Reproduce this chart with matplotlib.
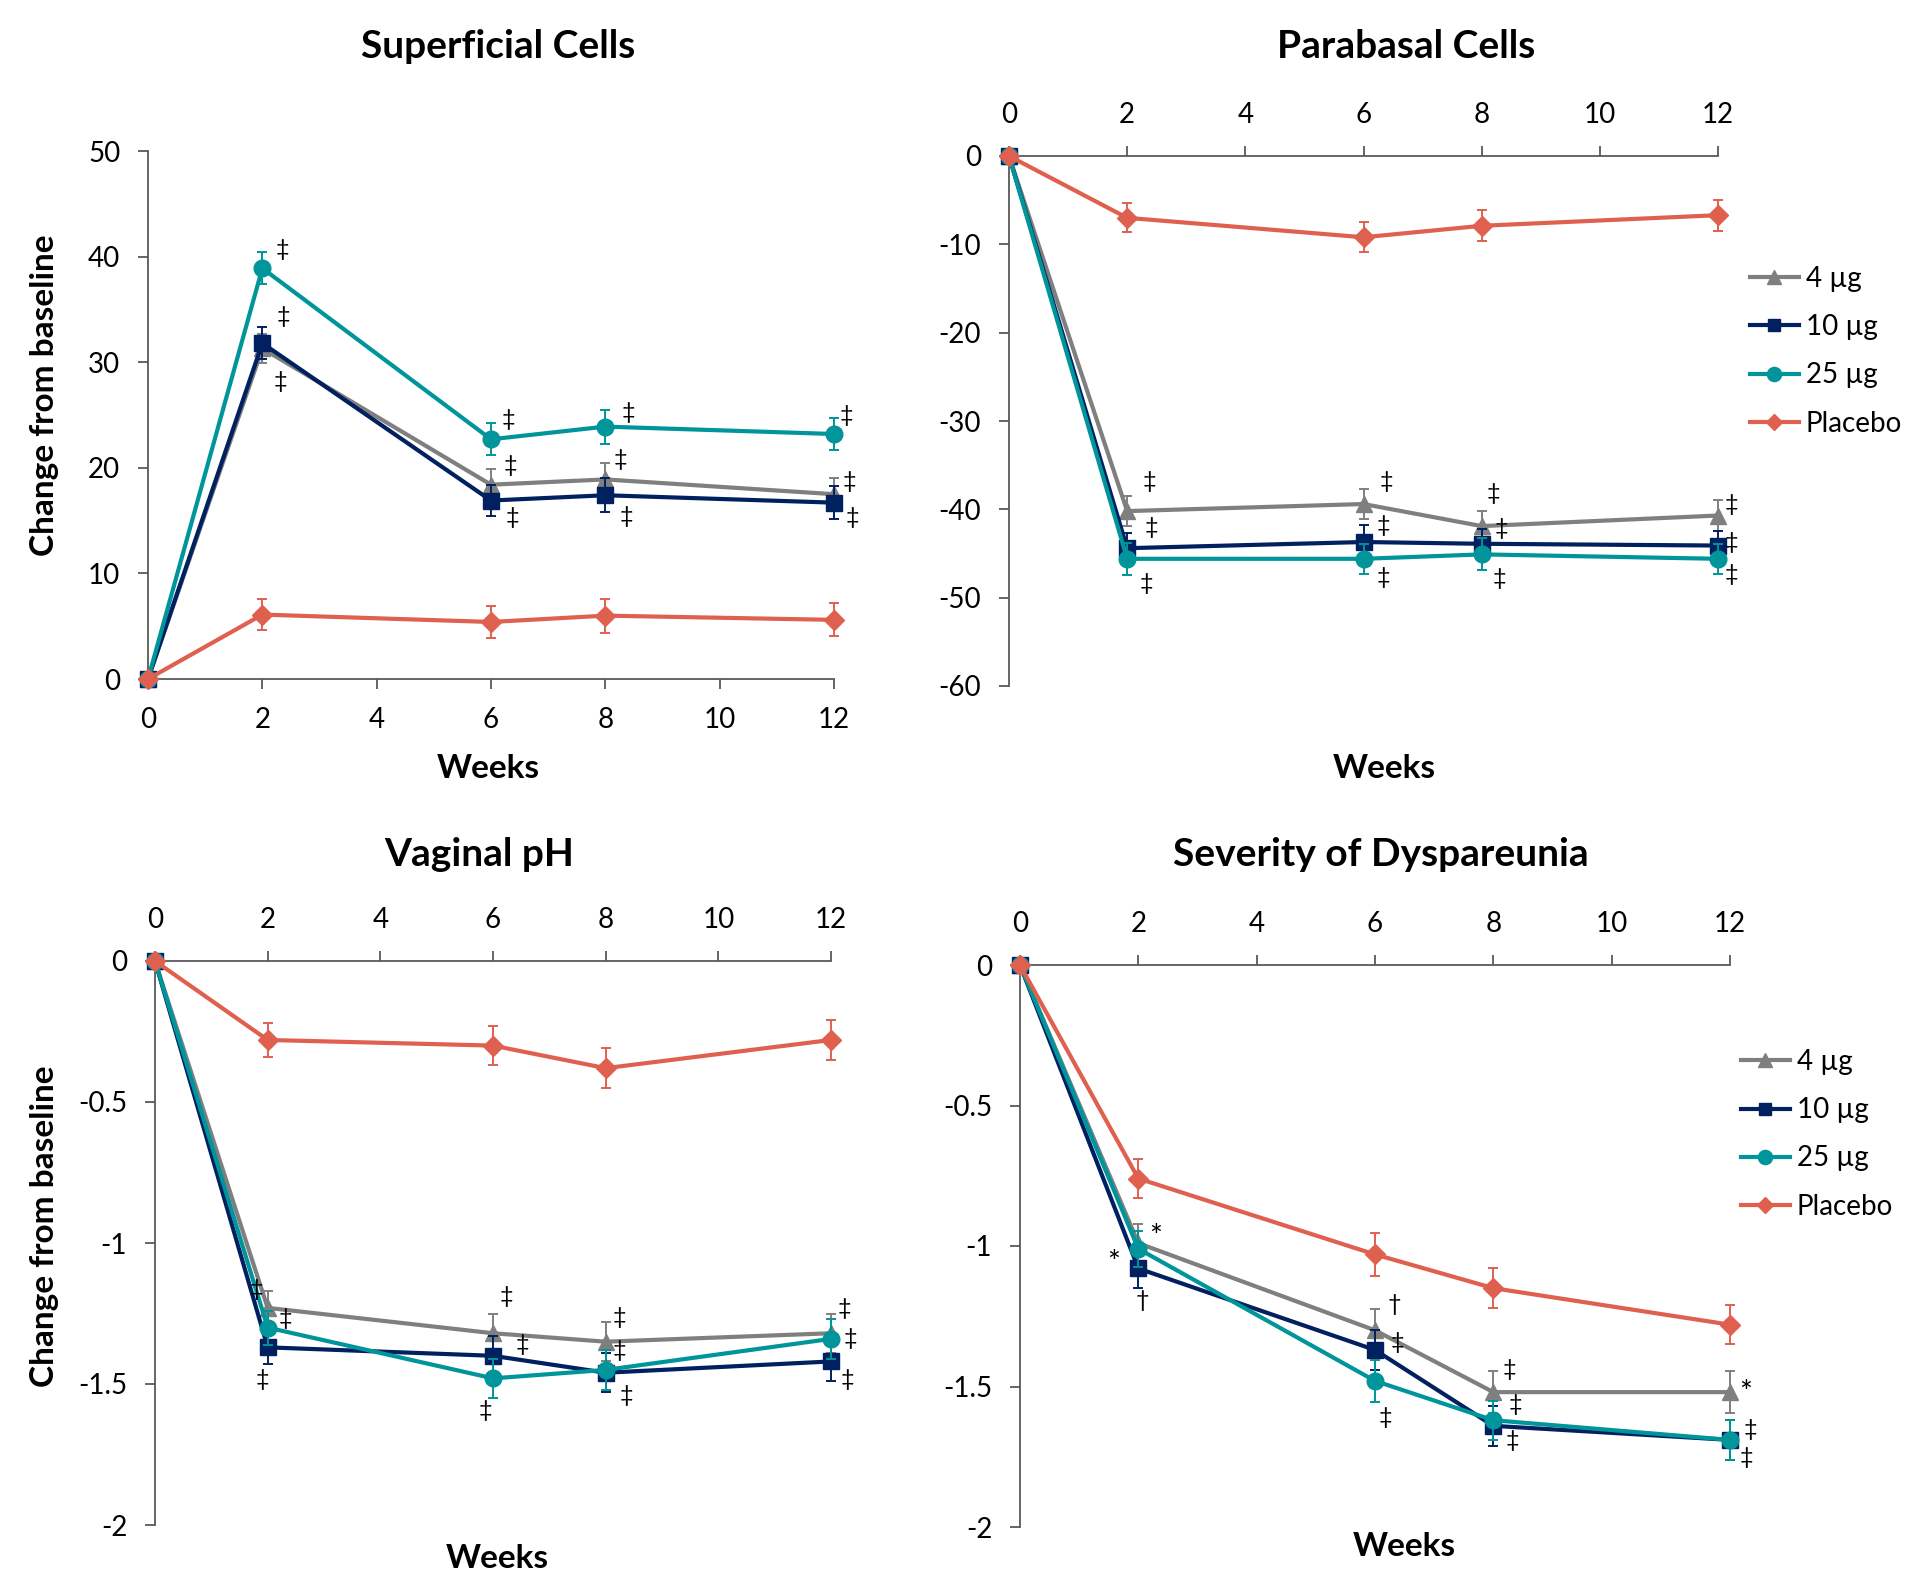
import matplotlib
matplotlib.use("Agg")
import matplotlib.pyplot as plt
from matplotlib.lines import Line2D

plt.rcParams['font.family'] = ['Lato', 'DejaVu Sans']

# данные
weeks = [0, 2, 6, 8, 12]
labels = ['4 µg', '10 µg', '25 µg', 'Placebo']

sup_4 = [0, 31.3, 18.4, 18.9, 17.5]
sup_10 = [0, 31.8, 16.9, 17.4, 16.7]
sup_25 = [0, 38.9, 22.7, 23.9, 23.2]
sup_pl = [0, 6.1, 5.4, 6.0, 5.6]
sup_4_err = [0, 1.4, 1.5, 1.6, 1.55]
sup_10_err = [0, 1.5, 1.5, 1.6, 1.55]
sup_25_err = [0, 1.5, 1.5, 1.6, 1.5]
sup_pl_err = [0, 1.5, 1.5, 1.6, 1.55]

para_4 = [0, -40.2, -39.4, -41.9, -40.7]
para_10 = [0, -44.4, -43.7, -43.9, -44.1]
para_25 = [0, -45.6, -45.6, -45.1, -45.6]
para_pl = [0, -7.0, -9.2, -7.9, -6.7]
para_4_err = [0, 1.7, 1.75, 1.7, 1.8]
para_10_err = [0, 1.7, 1.9, 1.7, 1.7]
para_25_err = [0, 1.8, 1.7, 1.8, 1.7]
para_pl_err = [0, 1.65, 1.7, 1.75, 1.75]

ph_4 = [0, -1.23, -1.32, -1.35, -1.32]
ph_10 = [0, -1.37, -1.40, -1.46, -1.42]
ph_25 = [0, -1.30, -1.48, -1.45, -1.34]
ph_pl = [0, -0.28, -0.30, -0.38, -0.28]
ph_4_err = [0, 0.06, 0.07, 0.07, 0.07]
ph_10_err = [0, 0.06, 0.07, 0.07, 0.07]
ph_25_err = [0, 0.06, 0.07, 0.07, 0.07]
ph_pl_err = [0, 0.06, 0.07, 0.07, 0.07]

dys_4 = [0, -0.99, -1.30, -1.52, -1.52]
dys_10 = [0, -1.08, -1.37, -1.64, -1.69]
dys_25 = [0, -1.01, -1.48, -1.62, -1.69]
dys_pl = [0, -0.76, -1.03, -1.15, -1.28]
dys_4_err = [0, 0.07, 0.075, 0.075, 0.075]
dys_10_err = [0, 0.07, 0.07, 0.07, 0.07]
dys_25_err = [0, 0.065, 0.075, 0.07, 0.07]
dys_pl_err = [0, 0.07, 0.075, 0.07, 0.07]

# значимость: (символ, серия, индекс недели)
sup_marks = [('‡', 2, 1), ('‡', 1, 1), ('‡', 0, 1), ('‡', 2, 2), ('‡', 0, 2), ('‡', 1, 2),
             ('‡', 2, 3), ('‡', 0, 3), ('‡', 1, 3), ('‡', 2, 4), ('‡', 0, 4), ('‡', 1, 4)]
para_marks = [('‡', 0, 1), ('‡', 1, 1), ('‡', 2, 1), ('‡', 0, 2), ('‡', 1, 2), ('‡', 2, 2),
              ('‡', 0, 3), ('‡', 0, 3), ('‡', 2, 3), ('‡', 0, 4), ('‡', 1, 4), ('‡', 2, 4)]
ph_marks = [('‡', 0, 1), ('‡', 0, 1), ('‡', 1, 1), ('‡', 0, 2), ('‡', 0, 2), ('‡', 2, 2),
            ('‡', 0, 3), ('‡', 0, 3), ('‡', 1, 3), ('‡', 0, 4), ('‡', 2, 4), ('‡', 1, 4)]
dys_marks = [('*', 0, 1), ('*', 1, 1), ('†', 1, 1), ('†', 0, 2), ('‡', 0, 2), ('‡', 2, 2),
             ('‡', 0, 3), ('‡', 0, 3), ('‡', 1, 3), ('*', 0, 4), ('‡', 1, 4), ('‡', 1, 4)]

# смещения значков от точки, в пикселях (x вправо, y вниз)
sup_off = [(20, -19), (21, -27), (18, 33), (17, -20), (19, -19), (21, 17),
           (23, -14), (15, -20), (21, 21), (12, -19), (15, -13), (18, 15)]
para_off = [(22, -30), (24, -21), (19, 25), (23, -23), (20, -17), (20, 19),
            (12, -33), (20, 2), (18, 24), (13, -11), (13, -3), (13, 16)]
ph_off = [(-11, -18), (18, 11), (-5, 32), (13, -37), (29, 11), (-8, 32),
          (14, -24), (14, 9), (21, 23), (13, -25), (19, 0), (16, 18)]
dys_off = [(17, -12), (-25, -11), (4, 32), (19, -26), (22, 12), (10, 37),
           (16, -23), (22, 12), (19, 15), (16, -5), (20, -10), (16, 18)]

colors = ['#7f7f7f', '#002060', '#00959a', '#e0604f']
markers = ['^', 's', 'o', 'D']
msizes = [12, 11, 12, 10]

W, H = 1905, 1576
fig = plt.figure(figsize=(W / 100, H / 100), dpi=100)

def box(l, r, t, b):
    return [l / W, 1 - b / H, (r - l) / W, (b - t) / H]

panels = [
    dict(rect=box(148, 834, 151, 679), series=[sup_4, sup_10, sup_25, sup_pl],
         errs=[sup_4_err, sup_10_err, sup_25_err, sup_pl_err], ylim=(0, 50),
         yticks=[0, 10, 20, 30, 40, 50], top=False, title='Superficial Cells',
         tpos=(498, 46), wpos=(488, 769), ylab=(45, 395), legend=None,
         marks=sup_marks, off=sup_off),
    dict(rect=box(1009, 1718, 156, 686), series=[para_4, para_10, para_25, para_pl],
         errs=[para_4_err, para_10_err, para_25_err, para_pl_err], ylim=(-60, 0),
         yticks=[0, -10, -20, -30, -40, -50, -60], top=True, title='Parabasal Cells',
         tpos=(1406, 46), wpos=(1384, 768), ylab=None, legend=(1750, 266),
         marks=para_marks, off=para_off),
    dict(rect=box(155, 831, 961, 1525), series=[ph_4, ph_10, ph_25, ph_pl],
         errs=[ph_4_err, ph_10_err, ph_25_err, ph_pl_err], ylim=(-2, 0),
         yticks=[0, -0.5, -1, -1.5, -2], top=True, title='Vaginal pH',
         tpos=(479, 854), wpos=(497, 1559), ylab=(45, 1226), legend=None,
         marks=ph_marks, off=ph_off),
    dict(rect=box(1020, 1730, 965, 1527), series=[dys_4, dys_10, dys_25, dys_pl],
         errs=[dys_4_err, dys_10_err, dys_25_err, dys_pl_err], ylim=(-2, 0),
         yticks=[0, -0.5, -1, -1.5, -2], top=True, title='Severity of Dyspareunia',
         tpos=(1381, 854), wpos=(1404, 1547), ylab=None, legend=(1741, 1049),
         marks=dys_marks, off=dys_off),
]

for p in panels:
    ax = fig.add_axes(p['rect'])
    for i in range(4):
        ax.errorbar(weeks, p['series'][i], yerr=p['errs'][i], color=colors[i],
                    lw=3, marker=markers[i], ms=msizes[i], mec=colors[i],
                    elinewidth=1.4, capsize=3.6, capthick=1.4,
                    clip_on=False, zorder=3 + i)
    ax.set_xlim(0, 12)
    ax.set_ylim(*p['ylim'])
    ax.set_xticks([0, 2, 4, 6, 8, 10, 12])
    ax.set_yticks(p['yticks'])
    ax.set_yticklabels(['%g' % v for v in p['yticks']])
    ax.spines['right'].set_visible(False)
    if p['top']:
        ax.xaxis.tick_top()
        ax.spines['bottom'].set_visible(False)
    else:
        ax.spines['top'].set_visible(False)
    for s in ax.spines.values():
        s.set_color('#595959')
        s.set_linewidth(1.3)
    ax.tick_params(length=7, width=1.3, color='#595959', labelsize=20, pad=13)

    for (sym, si, wi), (dx, dy) in zip(p['marks'], p['off']):
        if sym == '*':
            # звёздочка в Lato мелкая и высоко сидит
            ax.annotate(sym, (weeks[wi], p['series'][si][wi]), xytext=(dx, -dy - 6),
                        textcoords='offset pixels', ha='center', va='center',
                        fontsize=22, zorder=10, annotation_clip=False)
        else:
            ax.annotate(sym, (weeks[wi], p['series'][si][wi]), xytext=(dx, -dy),
                        textcoords='offset pixels', ha='center', va='center',
                        fontsize=17, zorder=10, annotation_clip=False)

    fig.text(p['tpos'][0] / W, 1 - p['tpos'][1] / H, p['title'],
             fontsize=28, fontweight='bold', ha='center', va='center')
    fig.text(p['wpos'][0] / W, 1 - p['wpos'][1] / H, 'Weeks',
             fontsize=24, fontweight='bold', ha='center', va='center')
    if p['ylab']:
        fig.text(p['ylab'][0] / W, 1 - p['ylab'][1] / H, 'Change from baseline',
                 fontsize=24, fontweight='bold', ha='center', va='center', rotation=90)
    if p['legend']:
        handles = [Line2D([], [], color=colors[i], lw=3, marker=markers[i],
                          ms=msizes[i] * 0.85, mec=colors[i]) for i in range(4)]
        ax.legend(handles, labels, loc='upper left',
                  bbox_to_anchor=(p['legend'][0] / W, 1 - p['legend'][1] / H),
                  bbox_transform=fig.transFigure, frameon=False, fontsize=20,
                  numpoints=1, handlelength=1.75, handletextpad=0.25,
                  labelspacing=0.8, borderpad=0, borderaxespad=0)

fig.savefig('out.png', dpi=100)
